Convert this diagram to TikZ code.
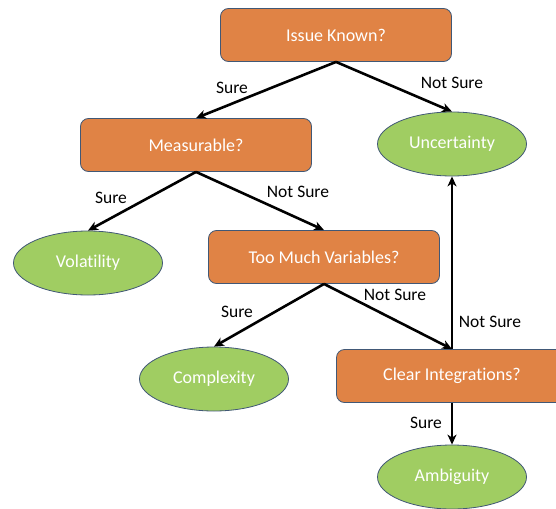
\documentclass[tikz,border=0pt]{standalone}
\usepackage{fontspec}
\setmainfont{Carlito}[Ligatures={NoCommon}]
\usetikzlibrary{shapes.geometric,arrows.meta}
\definecolor{boxorange}{RGB}{224,131,69}
\definecolor{ovalgreen}{RGB}{160,205,98}
\definecolor{edgeblue}{RGB}{65,88,118}
\tikzset{
  decision/.style={draw=edgeblue, line width=0.8pt, fill=boxorange, rounded corners=8pt,
    minimum width=231pt, minimum height=53pt, inner sep=0pt, text=white,
    font=\fontsize{18}{20}\selectfont},
  outcome/.style={ellipse, draw=edgeblue, line width=0.8pt, fill=ovalgreen,
    minimum width=149pt, minimum height=64pt, inner sep=0pt, text=white,
    font=\fontsize{18}{20}\selectfont},
  flow/.style={line width=2.6pt, -{Stealth[length=10pt,width=9pt,inset=3pt]}},
  lbl/.style={font=\fontsize{17.5}{19}\selectfont, inner sep=0pt, text=black}
}
\begin{document}
\begin{tikzpicture}[x=1pt,y=-1pt]
\useasboundingbox (0,0) rectangle (556,508);
\clip (0,0) rectangle (556,508);
\node[decision] (ik) at (336,35) {Issue Known?};
\node[decision] (meas) at (196,145) {Measurable?};
\node[outcome] (unc) at (452,144) {Uncertainty};
\node[outcome] (vol) at (88,263) {Volatility};
\node[decision] (tmv) at (324,257) {Too Much Variables?};
\node[outcome] (cpx) at (214,379) {Complexity};
\node[decision] (ci) at (452,376) {Clear Integrations?};
\node[outcome] (amb) at (452,477) {Ambiguity};

\draw[flow] (ik.south) -- (meas.north);
\draw[flow] (ik.south) -- (unc.north);
\draw[flow] (meas.south) -- (vol.north);
\draw[flow] (meas.south) -- (tmv.north);
\draw[flow] (tmv.south) -- (cpx.north);
\draw[flow] (tmv.south) -- (ci.north);
\draw[flow] (ci.north) -- (unc.south);
\draw[flow] (ci.south) -- (amb.north);

\node[lbl] (l1) at (232,88) {Sure};
\node[lbl] (l2) at (452,83) {Not Sure};
\node[lbl] (l3) at (111,198) {Sure};
\node[lbl] (l4) at (298,192) {Not Sure};
\node[lbl] (l5) at (237,312) {Sure};
\node[lbl] (l6) at (395,295) {Not Sure};
\node[lbl] (l7) at (490,322) {Not Sure};
\node[lbl] (l8) at (426,423) {Sure};
\end{tikzpicture}
\end{document}
